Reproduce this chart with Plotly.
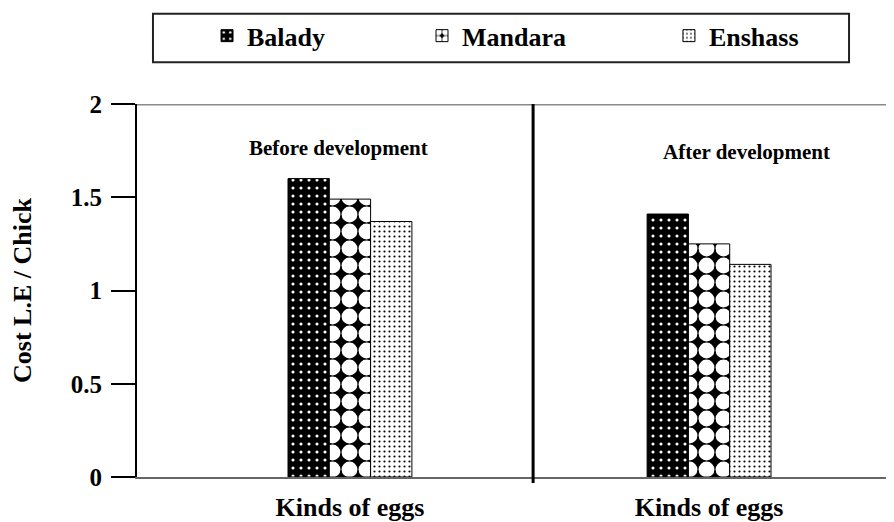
import plotly.graph_objects as go

# ---- data ----
panels = ["Before development", "After development"]
x_pos = [0, 1]
tick_labels = ["Kinds of eggs", "Kinds of eggs"]
series_names = ["Balady", "Mandara", "Enshass"]
balady = [1.60, 1.41]
mandara = [1.49, 1.25]
enshass = [1.37, 1.14]
y_ticks = [0, 0.5, 1, 1.5, 2]
y_tick_labels = ["0", "0.5", "1", "1.5", "2"]

SERIF = "Liberation Serif"

def bfont(size):
    return dict(family=SERIF, size=size, color="black", weight="bold")

fig = go.Figure()
fig.add_trace(go.Bar(
    name=series_names[0], x=x_pos, y=balady, legend="legend", showlegend=True,
    marker=dict(color="black", line=dict(color="black", width=1),
                pattern=dict(shape=".", fgcolor="white", bgcolor="black",
                             size=8, solidity=0.12, fillmode="replace")),
))
fig.add_trace(go.Bar(
    name=series_names[1], x=x_pos, y=mandara, legend="legend2", showlegend=True,
    marker=dict(color="black", line=dict(color="black", width=1),
                pattern=dict(shape=".", fgcolor="white", bgcolor="black",
                             size=17, solidity=0.68, fillmode="replace")),
))
fig.add_trace(go.Bar(
    name=series_names[2], x=x_pos, y=enshass, legend="legend3", showlegend=True,
    marker=dict(color="white", line=dict(color="black", width=1),
                pattern=dict(shape=".", fgcolor="black", bgcolor="white",
                             size=5, solidity=0.15, fillmode="replace")),
))

# panel labels
fig.add_annotation(x=-0.033, y=1.766, xref="x", yref="y", text=panels[0],
                   showarrow=False, font=bfont(21))
fig.add_annotation(x=1.104, y=1.745, xref="x", yref="y", text=panels[1],
                   showarrow=False, font=bfont(21))

# top gray line, divider, legend box
fig.add_shape(type="line", xref="paper", yref="y", x0=0, x1=1, y0=2, y1=2,
              line=dict(color="#8a8a8a", width=3))
fig.add_shape(type="line", xref="x", yref="paper", x0=0.51, x1=0.51, y0=-0.016, y1=1,
              line=dict(color="black", width=3))
fig.add_shape(type="rect", xref="paper", yref="paper",
              x0=0.0211, x1=0.9406, y0=1.1117, y1=1.242,
              line=dict(color="#222222", width=2), fillcolor="rgba(0,0,0,0)")

def leg(x):
    return dict(orientation="h", x=x, xanchor="left", y=1.183, yanchor="middle",
                font=bfont(26), bgcolor="rgba(0,0,0,0)", borderwidth=0)

# page body has an 8px margin: figure is 8px smaller so it fills the window
fig.update_layout(
    width=886, height=514,
    margin=dict(l=129, r=0, t=96, b=42),
    paper_bgcolor="white", plot_bgcolor="white",
    showlegend=True,
    barmode="group", bargap=0.655, bargroupgap=0,
    font=dict(family=SERIF, color="black"),
    legend=leg(0.0925), legend2=leg(0.3765), legend3=leg(0.7027),
    xaxis=dict(range=[-0.593, 1.515], tickvals=x_pos, ticktext=tick_labels,
               showgrid=False, zeroline=False, showline=True, linecolor="#666666",
               linewidth=2, ticks="", ticklabelstandoff=6,
               tickfont=bfont(26)),
    yaxis=dict(range=[0, 2], tickvals=y_ticks, ticktext=y_tick_labels,
               showgrid=False, zeroline=False, showline=True, linecolor="black",
               linewidth=2, ticks="outside", ticklen=24, tickwidth=2, tickcolor="black",
               ticklabelstandoff=4, tickfont=bfont(25),
               title=dict(text="Cost L.E / Chick", standoff=33, font=bfont(26))),
)

fig.write_html("out.html")
